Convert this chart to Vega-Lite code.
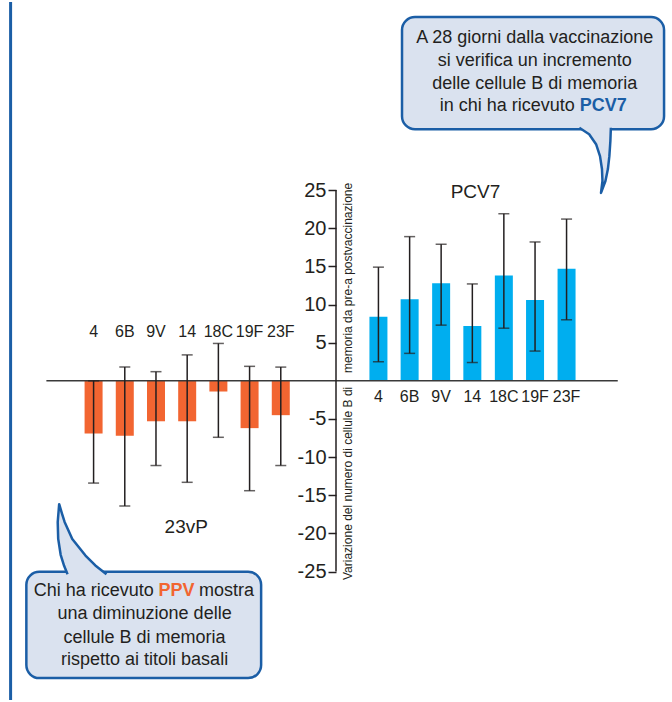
{
  "$schema": "https://vega.github.io/schema/vega-lite/v6.json",
  "width": 672,
  "height": 702,
  "autosize": {"type": "fit", "contains": "padding"},
  "padding": 0,
  "background": "white",
  "config": {"view": {"stroke": null}, "font": "Liberation Sans"},
  "data": {"values": [{}]},
  "datasets": {
    "bars": [
      {"group": "23vP", "serotype": "4", "pos": -7.77, "mean": -6.9, "lo": -13.4, "hi": 0},
      {"group": "23vP", "serotype": "6B", "pos": -6.77, "mean": -7.2, "lo": -16.4, "hi": 1.8},
      {"group": "23vP", "serotype": "9V", "pos": -5.77, "mean": -5.3, "lo": -11.1, "hi": 1.2},
      {"group": "23vP", "serotype": "14", "pos": -4.77, "mean": -5.3, "lo": -13.3, "hi": 3.4},
      {"group": "23vP", "serotype": "18C", "pos": -3.77, "mean": -1.4, "lo": -7.4, "hi": 4.9},
      {"group": "23vP", "serotype": "19F", "pos": -2.77, "mean": -6.2, "lo": -14.4, "hi": 1.9},
      {"group": "23vP", "serotype": "23F", "pos": -1.77, "mean": -4.5, "lo": -11.1, "hi": 1.8},
      {"group": "PCV7", "serotype": "4", "pos": 1.36, "mean": 8.4, "lo": 2.5, "hi": 14.9},
      {"group": "PCV7", "serotype": "6B", "pos": 2.36, "mean": 10.7, "lo": 3.6, "hi": 18.9},
      {"group": "PCV7", "serotype": "9V", "pos": 3.37, "mean": 12.8, "lo": 7.3, "hi": 17.9},
      {"group": "PCV7", "serotype": "14", "pos": 4.37, "mean": 7.2, "lo": 2.4, "hi": 12.7},
      {"group": "PCV7", "serotype": "18C", "pos": 5.38, "mean": 13.8, "lo": 6.9, "hi": 21.9},
      {"group": "PCV7", "serotype": "19F", "pos": 6.38, "mean": 10.6, "lo": 3.9, "hi": 18.2},
      {"group": "PCV7", "serotype": "23F", "pos": 7.39, "mean": 14.7, "lo": 8.0, "hi": 21.2}
    ],
    "tails": [
      {"callout": "top", "i": 0, "x": 7.799, "y": 33.16},
      {"callout": "top", "i": 1, "x": 8.115, "y": 32.32},
      {"callout": "top", "i": 2, "x": 8.336, "y": 31.01},
      {"callout": "top", "i": 3, "x": 8.462, "y": 29.45},
      {"callout": "top", "i": 4, "x": 8.525, "y": 27.76},
      {"callout": "top", "i": 5, "x": 8.541, "y": 26.19},
      {"callout": "top", "i": 6, "x": 8.494, "y": 24.63},
      {"callout": "top", "i": 7, "x": 8.636, "y": 26.19},
      {"callout": "top", "i": 8, "x": 8.715, "y": 27.76},
      {"callout": "top", "i": 9, "x": 8.762, "y": 29.45},
      {"callout": "top", "i": 10, "x": 8.794, "y": 31.40},
      {"callout": "top", "i": 11, "x": 8.810, "y": 33.16},
      {"callout": "bottom", "i": 0, "x": -8.604, "y": -25.34},
      {"callout": "bottom", "i": 1, "x": -8.715, "y": -24.24},
      {"callout": "bottom", "i": 2, "x": -8.825, "y": -22.80},
      {"callout": "bottom", "i": 3, "x": -8.904, "y": -20.72},
      {"callout": "bottom", "i": 4, "x": -8.920, "y": -18.50},
      {"callout": "bottom", "i": 5, "x": -8.873, "y": -16.16},
      {"callout": "bottom", "i": 6, "x": -8.778, "y": -17.46},
      {"callout": "bottom", "i": 7, "x": -8.699, "y": -18.50},
      {"callout": "bottom", "i": 8, "x": -8.453, "y": -20.72},
      {"callout": "bottom", "i": 9, "x": -8.030, "y": -22.90},
      {"callout": "bottom", "i": 10, "x": -7.714, "y": -24.20},
      {"callout": "bottom", "i": 11, "x": -7.357, "y": -25.34}
    ]
  },
  "layer": [
    {
      "data": {"name": "bars"},
      "mark": {"type": "bar", "width": 18},
      "encoding": {
        "x": {"field": "pos", "type": "quantitative", "axis": null, "scale": {"domain": [-10.6094, 10.6094], "nice": false, "zero": false}},
        "y": {"field": "mean", "type": "quantitative", "title": null,
              "scale": {"domain": [-41.83, 49.65], "nice": false, "zero": false},
              "axis": {"values": [-25, -20, -15, -10, -5, 5, 10, 15, 20, 25], "offset": -336, "domain": false, "grid": false,
                       "tickSize": 8, "tickWidth": 1.5, "tickColor": "#231f20",
                       "labelFontSize": 20, "labelFont": "Liberation Sans", "labelColor": "#231f20",
                       "labelPadding": 2, "labelOverlap": false, "labelFlush": false,
                       "labelExpr": "'' + datum.value"}},
        "y2": {"datum": 0},
        "color": {"field": "group", "type": "nominal", "legend": null, "scale": {"domain": ["23vP", "PCV7"], "range": ["#f26531", "#00aeef"]}}
      }
    },
    {"mark": {"type": "rule", "color": "#1b5ea6", "strokeWidth": 3}, "encoding": {"x": {"datum": -10.43}}},
    {"mark": {"type": "rect", "cornerRadius": 13, "fill": "#dae2ef", "stroke": "#1b5ea6", "strokeWidth": 2.5},
     "encoding": {"x": {"datum": 2.116}, "x2": {"datum": 10.515}, "y": {"datum": 47.69}, "y2": {"datum": 32.97}}},
    {"mark": {"type": "rect", "cornerRadius": 13, "fill": "#dae2ef", "stroke": "#1b5ea6", "strokeWidth": 2.5},
     "encoding": {"x": {"datum": -9.925}, "x2": {"datum": -2.400}, "y": {"datum": -25.02}, "y2": {"datum": -38.96}}},
    {
      "data": {"name": "tails"},
      "mark": {"type": "line", "fill": "#dae2ef", "stroke": "#1b5ea6", "strokeWidth": 2.5, "interpolate": "linear", "strokeJoin": "round"},
      "encoding": {
        "x": {"field": "x", "type": "quantitative"},
        "y": {"field": "y", "type": "quantitative"},
        "detail": {"field": "callout"},
        "order": {"field": "i", "type": "quantitative"}
      }
    },
    {"mark": {"type": "rule", "color": "#3a3a3a", "strokeWidth": 1.5},
     "encoding": {"x": {"datum": -9.283}, "x2": {"datum": 9.031}, "y": {"datum": 0}}},
    {"mark": {"type": "rule", "color": "#231f20", "strokeWidth": 1.5},
     "encoding": {"x": {"datum": 0}, "y": {"datum": -25}, "y2": {"datum": 25}}},
    {
      "data": {"name": "bars"},
      "mark": {"type": "rule", "color": "#231f20", "strokeWidth": 1.5},
      "encoding": {"x": {"field": "pos", "type": "quantitative"}, "y": {"field": "lo", "type": "quantitative"}, "y2": {"field": "hi"}}
    },
    {
      "data": {"name": "bars"},
      "mark": {"type": "tick", "orient": "horizontal", "color": "#231f20", "size": 11, "thickness": 1.5},
      "encoding": {"x": {"field": "pos", "type": "quantitative"}, "y": {"field": "lo", "type": "quantitative"}}
    },
    {
      "data": {"name": "bars"},
      "mark": {"type": "tick", "orient": "horizontal", "color": "#231f20", "size": 11, "thickness": 1.5},
      "encoding": {"x": {"field": "pos", "type": "quantitative"}, "y": {"field": "hi", "type": "quantitative"}}
    },
    {
      "data": {"name": "bars"},
      "transform": [{"filter": "datum.group === '23vP'"}],
      "mark": {"type": "text", "fontSize": 16, "color": "#231f20", "baseline": "middle", "align": "center"},
      "encoding": {"x": {"field": "pos", "type": "quantitative"}, "y": {"datum": 6.42}, "text": {"field": "serotype"}}
    },
    {
      "data": {"name": "bars"},
      "transform": [{"filter": "datum.group === 'PCV7'"}],
      "mark": {"type": "text", "fontSize": 16, "color": "#231f20", "baseline": "middle", "align": "center"},
      "encoding": {"x": {"field": "pos", "type": "quantitative"}, "y": {"datum": -2.18}, "text": {"field": "serotype"}}
    },
    {"mark": {"type": "text", "text": "PCV7", "fontSize": 19, "color": "#231f20", "baseline": "middle", "align": "center"},
     "encoding": {"x": {"datum": 4.47}, "y": {"datum": 24.78}}},
    {"mark": {"type": "text", "text": "23vP", "fontSize": 19, "color": "#231f20", "baseline": "middle", "align": "center"},
     "encoding": {"x": {"datum": -4.80}, "y": {"datum": -19.22}}},
    {"mark": {"type": "text", "text": "Variazione del numero di cellule B di", "fontSize": 12, "angle": 270, "color": "#231f20", "baseline": "middle", "align": "right"},
     "encoding": {"x": {"datum": 0.395}, "y": {"datum": -0.78}}},
    {"mark": {"type": "text", "text": "memoria da pre-a  postvaccinazione", "fontSize": 12, "angle": 270, "color": "#231f20", "baseline": "middle", "align": "left"},
     "encoding": {"x": {"datum": 0.395}, "y": {"datum": 1.04}}},
    {"mark": {"type": "text", "text": "A 28 giorni dalla vaccinazione", "fontSize": 18, "color": "#231f20", "baseline": "middle", "align": "center"},
     "encoding": {"x": {"datum": 6.37}, "y": {"datum": 44.92}}},
    {"mark": {"type": "text", "text": "si verifica un incremento", "fontSize": 18, "color": "#231f20", "baseline": "middle", "align": "center"},
     "encoding": {"x": {"datum": 6.37}, "y": {"datum": 41.93}}},
    {"mark": {"type": "text", "text": "delle cellule B di memoria", "fontSize": 18, "color": "#231f20", "baseline": "middle", "align": "center"},
     "encoding": {"x": {"datum": 6.37}, "y": {"datum": 38.95}}},
    {"mark": {"type": "text", "text": "in chi ha ricevuto", "fontSize": 18, "color": "#231f20", "baseline": "middle", "align": "right"},
     "encoding": {"x": {"datum": 7.657}, "y": {"datum": 35.97}}},
    {"mark": {"type": "text", "text": "PCV7", "fontSize": 18, "fontWeight": "bold", "color": "#1b5ea6", "baseline": "middle", "align": "left"},
     "encoding": {"x": {"datum": 7.815}, "y": {"datum": 35.97}}},
    {"mark": {"type": "text", "text": "Chi ha ricevuto", "fontSize": 18, "color": "#231f20", "baseline": "middle", "align": "right"},
     "encoding": {"x": {"datum": -5.841}, "y": {"datum": -27.50}}},
    {"mark": {"type": "text", "text": "PPV", "fontSize": 18, "fontWeight": "bold", "color": "#f26531", "baseline": "middle", "align": "center"},
     "encoding": {"x": {"datum": -5.115}, "y": {"datum": -27.50}}},
    {"mark": {"type": "text", "text": "mostra", "fontSize": 18, "color": "#231f20", "baseline": "middle", "align": "left"},
     "encoding": {"x": {"datum": -4.389}, "y": {"datum": -27.50}}},
    {"mark": {"type": "text", "text": "una diminuzione delle", "fontSize": 18, "color": "#231f20", "baseline": "middle", "align": "center"},
     "encoding": {"x": {"datum": -6.135}, "y": {"datum": -30.60}}},
    {"mark": {"type": "text", "text": "cellule B di memoria", "fontSize": 18, "color": "#231f20", "baseline": "middle", "align": "center"},
     "encoding": {"x": {"datum": -6.135}, "y": {"datum": -33.65}}},
    {"mark": {"type": "text", "text": "rispetto ai titoli basali", "fontSize": 18, "color": "#231f20", "baseline": "middle", "align": "center"},
     "encoding": {"x": {"datum": -6.135}, "y": {"datum": -36.62}}}
  ]
}
